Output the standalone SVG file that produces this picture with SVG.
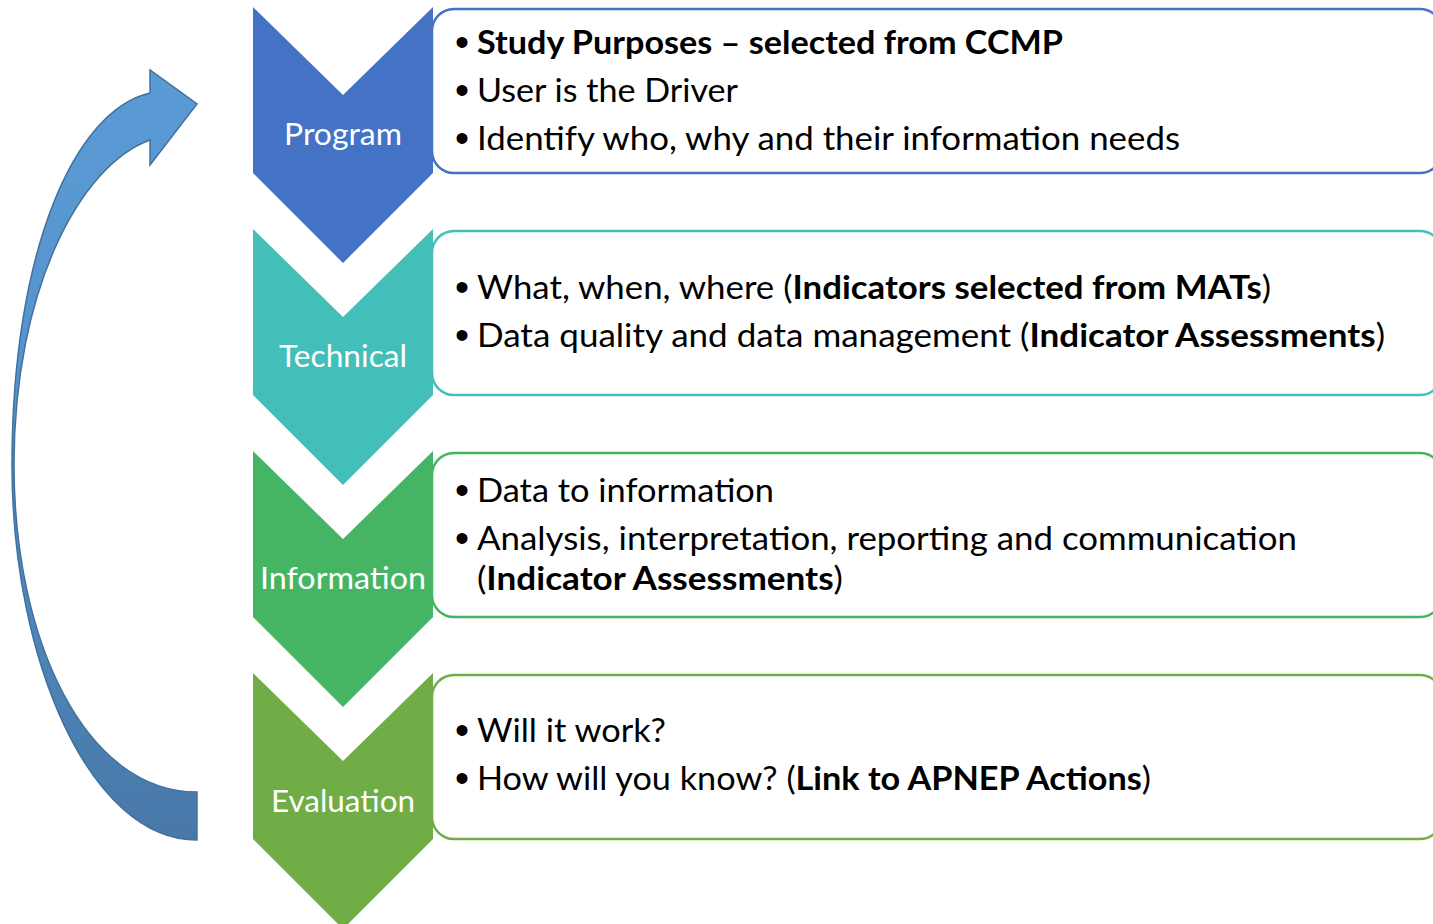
<svg xmlns="http://www.w3.org/2000/svg" width="1433" height="924" viewBox="0 0 1433 924">
  <style>
    .lbl { font-family: Lato, "Liberation Sans", sans-serif; font-size: 31px; fill: #ffffff; text-anchor: middle; }
    .txt { font-family: Lato, "Liberation Sans", sans-serif; font-size: 32px; fill: #000000; }
    .bul { font-family: "Liberation Sans", sans-serif; font-size: 40px; fill: #000000; text-anchor: middle; }
    .b { font-weight: bold; }
    .box { fill: #ffffff; stroke-width: 2.5; }
  </style>
  <defs>
    <linearGradient id="arrowGrad" x1="0" y1="0" x2="0" y2="1">
      <stop offset="0" stop-color="#5B9BD5"/>
      <stop offset="0.45" stop-color="#5492CB"/>
      <stop offset="1" stop-color="#4878A8"/>
    </linearGradient>
  </defs>
  <rect width="1433" height="924" fill="#ffffff"/>

  <g id="connectors">
    <path d="M197,840 C90,840 12,660 12,465 C12,250 75,110 150,93 L150,70 L197,104 L150,165 L150,140 C80,165 14,290 14,465 C14,640 85,792 197,792 Z" fill="url(#arrowGrad)" stroke="#41719C" stroke-width="1.5" stroke-linejoin="miter"/>
  </g>

  <g id="program">
    <rect class="box" x="432" y="9" width="1010" height="164" rx="22" stroke="#4472C4"/>
    <path d="M253,7 L343,95 L433,7 L433,173 L343,263 L253,173 Z" fill="#4472C4"/>
    <text class="lbl" x="343" y="145" textLength="118" lengthAdjust="spacingAndGlyphs">Program</text>
    <text class="bul" x="462" y="56">•</text>
    <text class="txt b" x="477" y="54" textLength="586" lengthAdjust="spacingAndGlyphs">Study Purposes – selected from CCMP</text>
    <text class="bul" x="462" y="104">•</text>
    <text class="txt" x="477" y="102" textLength="261" lengthAdjust="spacingAndGlyphs">User is the Driver</text>
    <text class="bul" x="462" y="152">•</text>
    <text class="txt" x="477" y="150" textLength="703" lengthAdjust="spacingAndGlyphs">Identify who, why and their information needs</text>
  </g>

  <g id="technical">
    <rect class="box" x="432" y="231" width="1010" height="164" rx="22" stroke="#43BEB8"/>
    <path d="M253,229 L343,317 L433,229 L433,395 L343,485 L253,395 Z" fill="#43BEB8"/>
    <text class="lbl" x="343" y="367" textLength="128" lengthAdjust="spacingAndGlyphs">Technical</text>
    <text class="bul" x="462" y="301">•</text>
    <text class="txt" x="477" y="299" textLength="794" lengthAdjust="spacingAndGlyphs">What, when, where (<tspan class="b">Indicators selected from MATs</tspan>)</text>
    <text class="bul" x="462" y="349">•</text>
    <text class="txt" x="477" y="347" textLength="908" lengthAdjust="spacingAndGlyphs">Data quality and data management (<tspan class="b">Indicator Assessments</tspan>)</text>
  </g>

  <g id="information">
    <rect class="box" x="432" y="453" width="1010" height="164" rx="22" stroke="#46B563"/>
    <path d="M253,451 L343,539 L433,451 L433,617 L343,707 L253,617 Z" fill="#46B563"/>
    <text class="lbl" x="343" y="589" textLength="166" lengthAdjust="spacingAndGlyphs">Information</text>
    <text class="bul" x="462" y="504">•</text>
    <text class="txt" x="477" y="502" textLength="297" lengthAdjust="spacingAndGlyphs">Data to information</text>
    <text class="bul" x="462" y="552">•</text>
    <text class="txt" x="477" y="550" textLength="820" lengthAdjust="spacingAndGlyphs">Analysis, interpretation, reporting and communication</text>
    <text class="txt" x="477" y="590" textLength="366" lengthAdjust="spacingAndGlyphs">(<tspan class="b">Indicator Assessments</tspan>)</text>
  </g>

  <g id="evaluation">
    <rect class="box" x="432" y="675" width="1010" height="164" rx="22" stroke="#70AD47"/>
    <path d="M253,673 L343,761 L433,673 L433,839 L343,929 L253,839 Z" fill="#70AD47"/>
    <text class="lbl" x="343" y="812" textLength="144" lengthAdjust="spacingAndGlyphs">Evaluation</text>
    <text class="bul" x="462" y="744">•</text>
    <text class="txt" x="477" y="742" textLength="189" lengthAdjust="spacingAndGlyphs">Will it work?</text>
    <text class="bul" x="462" y="792">•</text>
    <text class="txt" x="477" y="790" textLength="674" lengthAdjust="spacingAndGlyphs">How will you know? (<tspan class="b">Link to APNEP Actions</tspan>)</text>
  </g>
</svg>
